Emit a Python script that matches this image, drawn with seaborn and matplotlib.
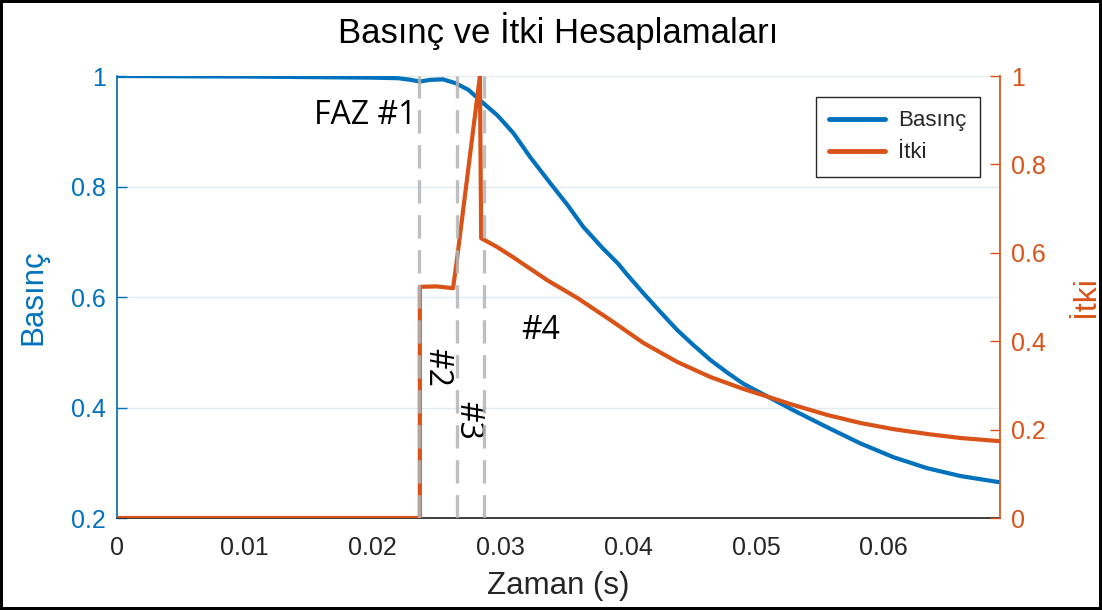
import matplotlib
matplotlib.use("Agg")
import matplotlib.pyplot as plt
import seaborn as sns
from matplotlib.lines import Line2D

# Basınç (normalize), sol eksen
zaman_basinc = [0.0, 0.005, 0.010, 0.015, 0.020, 0.022, 0.023, 0.0237, 0.0245, 0.0255,
                0.0265, 0.0275, 0.02856, 0.02976, 0.03101, 0.03234, 0.03391, 0.03524,
                0.03649, 0.03798, 0.03923, 0.03994, 0.04119, 0.04252, 0.04385, 0.04511,
                0.04644, 0.04777, 0.04902, 0.05098, 0.05294, 0.05560, 0.05818,
                0.06077, 0.06343, 0.06601, 0.06899, 0.0691]
basinc = [1.000, 0.9995, 0.999, 0.998, 0.997, 0.996, 0.993, 0.990, 0.993, 0.994,
          0.987, 0.975, 0.953, 0.929, 0.897, 0.853, 0.806, 0.767,
          0.727, 0.689, 0.660, 0.640, 0.607, 0.573, 0.540, 0.513,
          0.486, 0.463, 0.443, 0.419, 0.395, 0.364, 0.335,
          0.310, 0.290, 0.276, 0.265, 0.265]

# İtki (normalize), sağ eksen
zaman_itki = [0.0, 0.0237, 0.0237, 0.0250, 0.0263, 0.0266, 0.0284, 0.0285,
              0.02976, 0.0310, 0.03367, 0.03602, 0.03861, 0.0412, 0.04385, 0.04644,
              0.04902, 0.05098, 0.0529, 0.0556, 0.05818, 0.06077, 0.06343, 0.06601,
              0.06899, 0.0691]
itki = [0.0, 0.0, 0.523, 0.524, 0.520, 0.584, 1.0, 0.633,
        0.613, 0.590, 0.538, 0.498, 0.448, 0.396, 0.353, 0.319,
        0.292, 0.274, 0.256, 0.233, 0.215, 0.201, 0.190, 0.181,
        0.174, 0.174]

# faz sınırları ve etiketleri
faz_sinirlari = [0.02362, 0.02662, 0.02874]
faz_etiketleri = ["FAZ #1", "#2", "#3", "#4"]
faz_x = [0.0194, 0.02506, 0.02741, 0.03312]
faz_y = [0.929, 0.472, 0.377, 0.540]
faz_aci = [0, -90, -90, 0]

mavi = "#0072BD"
turuncu = "#D95319"
koyu = "#262626"

sns.set_theme(style="white")
plt.rcParams['font.family'] = ['Liberation Sans', 'DejaVu Sans']

fig = plt.figure(figsize=(11.02, 6.10), dpi=100)
fig.patch.set_edgecolor("black")
fig.patch.set_linewidth(4)
ax = fig.add_axes([0.1062, 0.1508, 0.8012, 0.7246])
ax2 = ax.twinx()

sns.lineplot(x=zaman_basinc, y=basinc, ax=ax, color=mavi, lw=3, sort=False, estimator=None)
sns.lineplot(x=zaman_itki, y=itki, ax=ax2, color=turuncu, lw=3, sort=False, estimator=None)

for xs in faz_sinirlari:
    ax2.axvline(xs, color="#b4b4b4", lw=2.4, dashes=(7, 3.5), alpha=0.85)

for t, x, y, r in zip(faz_etiketleri, faz_x, faz_y, faz_aci):
    ax.text(x, y, t, rotation=r, ha="center", va="center", fontsize=23,
            family="Open Sans", color="black")

ax.set_xlim(0, 0.0691)
ax.set_ylim(0.2, 1.0)
ax2.set_ylim(0, 1.0)
ax.set_xticks([0, 0.01, 0.02, 0.03, 0.04, 0.05, 0.06])
ax.set_xticklabels(["0", "0.01", "0.02", "0.03", "0.04", "0.05", "0.06"])
ax.set_yticks([0.2, 0.4, 0.6, 0.8, 1.0])
ax.set_yticklabels(["0.2", "0.4", "0.6", "0.8", "1"])
ax2.set_yticks([0, 0.2, 0.4, 0.6, 0.8, 1.0])
ax2.set_yticklabels(["0", "0.2", "0.4", "0.6", "0.8", "1"])

ax.yaxis.grid(True, color="#e3eaf0", lw=1)
ax.set_axisbelow(True)

ax.tick_params(axis="x", direction="in", length=7, width=1, colors=koyu, labelsize=18, pad=13)
ax.tick_params(axis="y", direction="in", length=7, width=1, colors=mavi, labelsize=18, pad=8)
ax2.tick_params(axis="y", direction="in", length=7, width=1, colors=turuncu, labelsize=18, pad=8)

for s in ["top", "right"]:
    ax.spines[s].set_visible(False)
for s in ["top", "left", "bottom"]:
    ax2.spines[s].set_visible(False)
ax.spines["left"].set_color(mavi)
ax.spines["bottom"].set_color(koyu)
ax2.spines["right"].set_color(turuncu)

ax.set_xlabel("Zaman (s)", fontsize=22.5, color=koyu, labelpad=8)
ax.set_ylabel("Basınç", fontsize=22.5, color=mavi, labelpad=16)
ax2.set_ylabel("İtki", fontsize=23, color=turuncu, labelpad=18)
ax.set_title("Basınç ve İtki Hesaplamaları", fontsize=25, color="black", pad=24)

h = [Line2D([], [], color=mavi, lw=3.5), Line2D([], [], color=turuncu, lw=3.5)]
leg = ax2.legend(h, ["Basınç", "İtki"], loc="upper right", bbox_to_anchor=(0.977, 0.9525),
                 borderaxespad=0, fontsize=16, frameon=True, fancybox=False, framealpha=1,
                 edgecolor=koyu, handlelength=2.5, handletextpad=0.6, borderpad=0.6,
                 labelspacing=0.5)
leg.get_frame().set_linewidth(1)

fig.savefig("out.png", dpi=100)
